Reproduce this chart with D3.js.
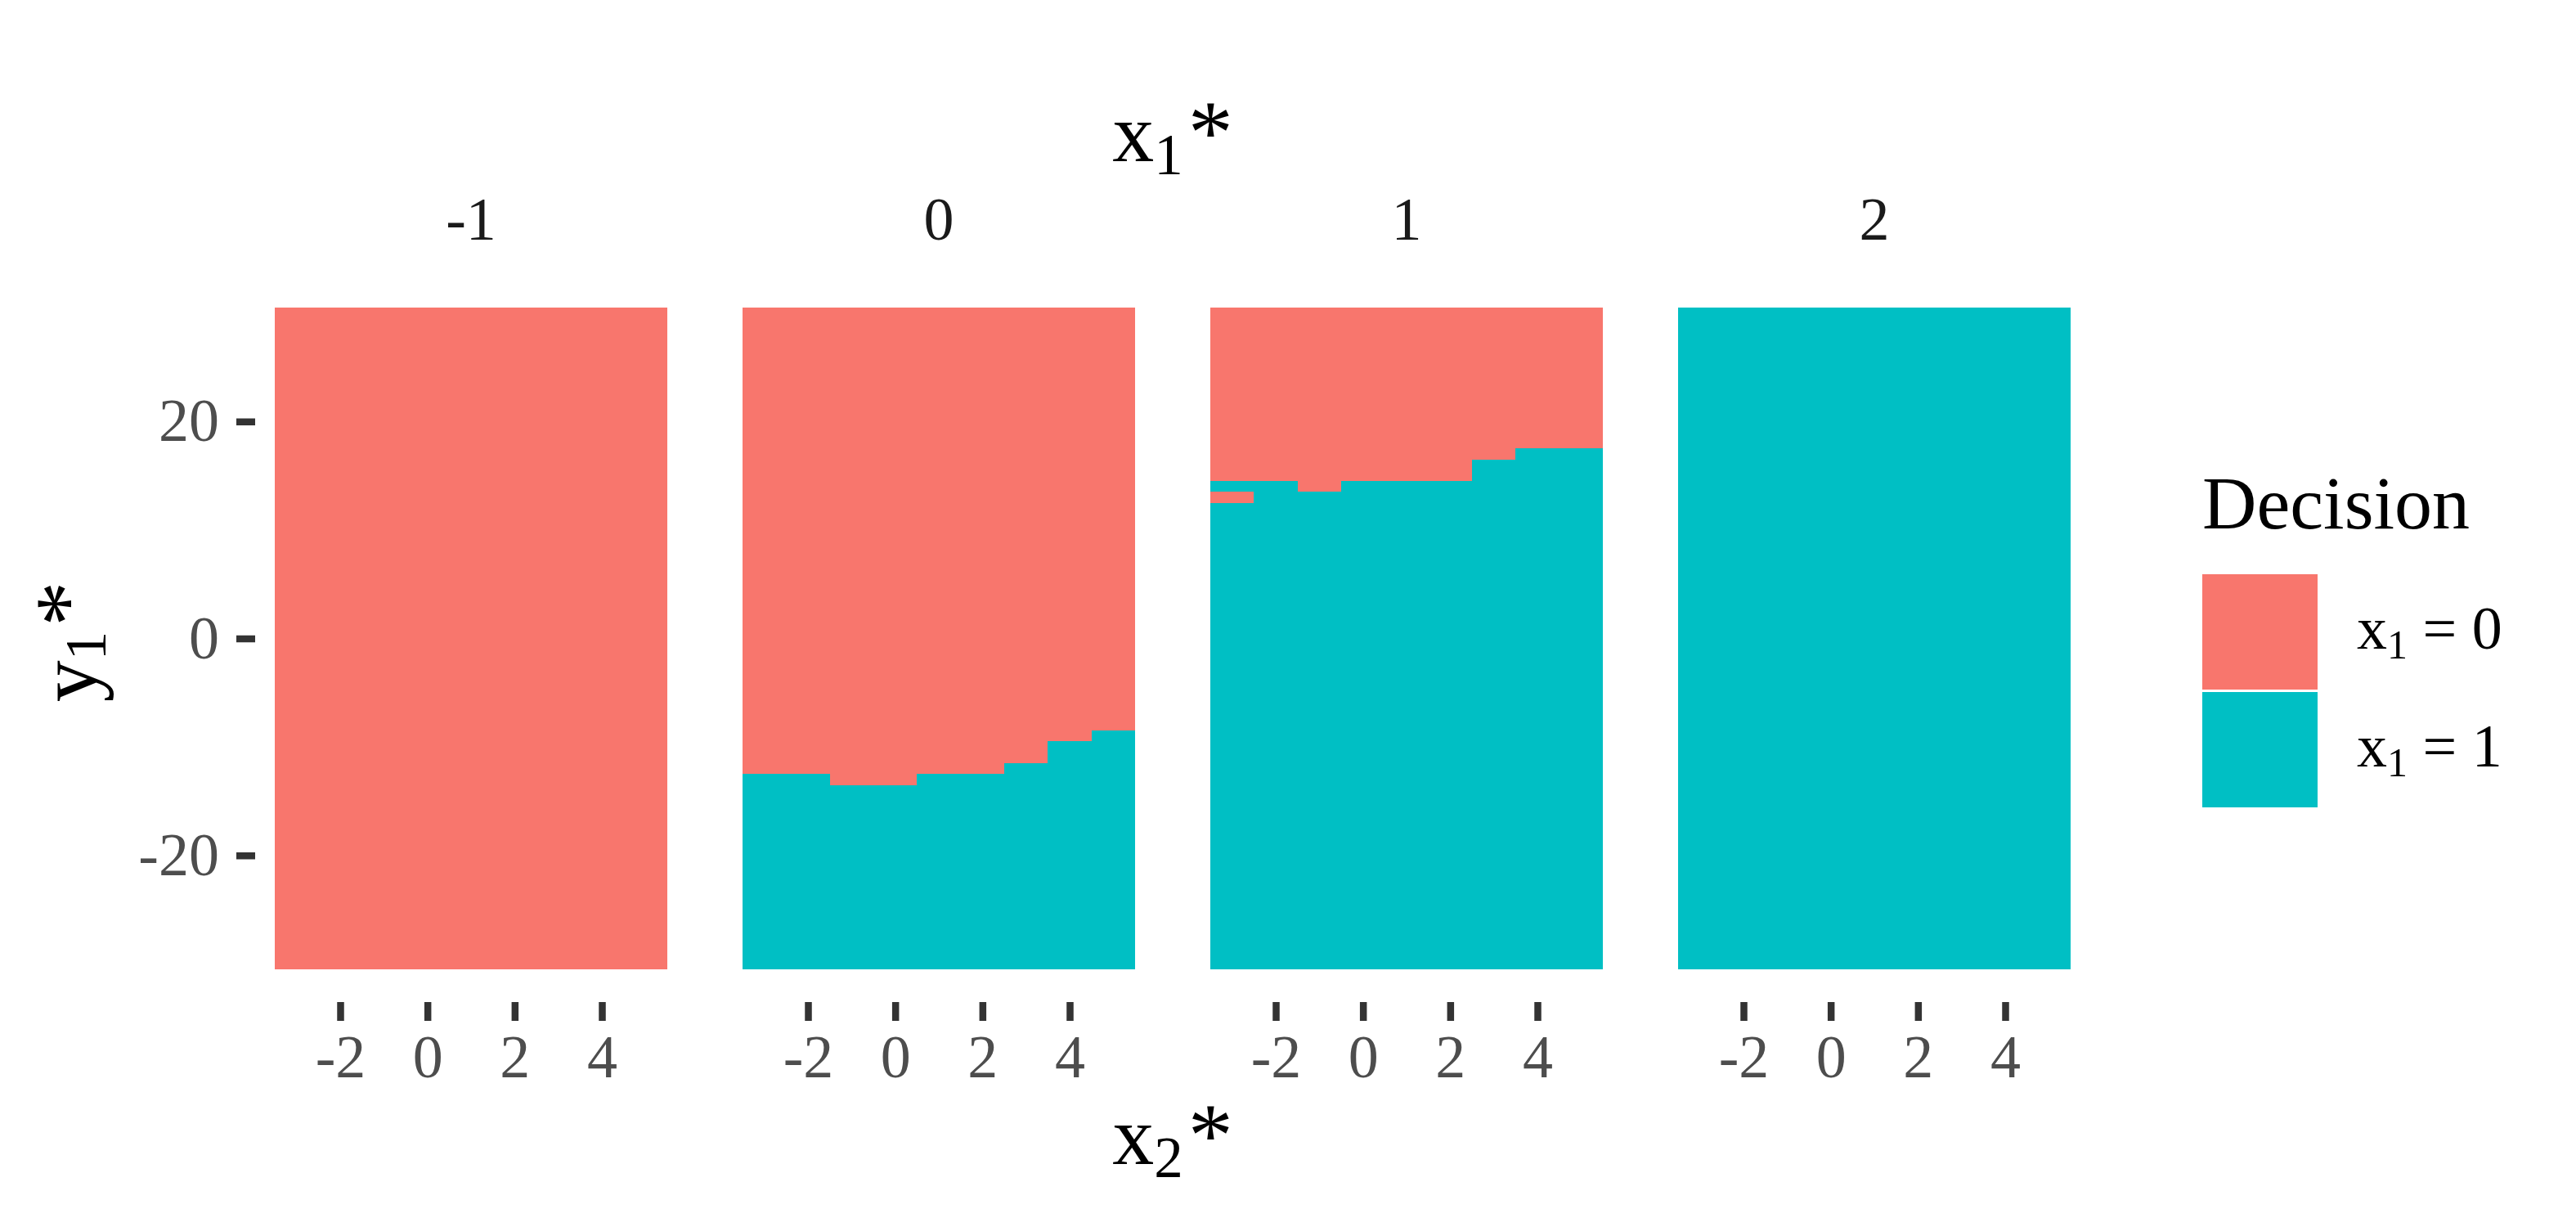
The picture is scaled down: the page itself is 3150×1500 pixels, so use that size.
<!DOCTYPE html>
<html>
<head>
<meta charset="utf-8">
<script src="https://cdn.jsdelivr.net/npm/d3@7"></script>
<style>
    body { margin: 0; background: #fff; }
    svg text { font-family: 'Liberation Serif', 'Times New Roman', serif; }
</style>
</head>
<body>
<svg id="chart" width="3150" height="1500"></svg>
<script>
// facets (x1*) and grid of the decision map
let facets = [-1, 0, 1, 2];
let x2Values = [-3, -2, -1, 0, 1, 2, 3, 4, 5];
let y1Min = -30, y1Max = 30;

// highest y1* where x1 = 1 is chosen, one value per x2* column
let cutM1 = [-31, -31, -31, -31, -31, -31, -31, -31, -31];
let cut0 = [-13, -13, -14, -14, -13, -13, -12, -10, -9];
let cut1 = [14, 14, 13, 14, 14, 14, 16, 17, 17];
let cut2 = [30, 30, 30, 30, 30, 30, 30, 30, 30];

// cells that break the pattern: [x1*, x2*, y1*, decision]
let oddCells = [[1, -3, 13, 0]];

let xTicks = [-2, 0, 2, 4];
let yTicks = [-20, 0, 20];
let decisions = ['0', '1'];
let decisionColors = ['#F8766D', '#00BFC4'];

let cuts = [cutM1, cut0, cut1, cut2];

let panelLeft = 336, panelPitch = 572, panelW = 480;
let panelTop = 376, panelH = 809;

let svg = d3.select('#chart');

let x = d3.scaleLinear().domain([-3.5, 5.5]).range([0, panelW]);
let y = d3.scaleLinear().domain([y1Min - 0.5, y1Max + 0.5]).range([panelH, 0]);
let color = d3.scaleOrdinal().domain(decisions).range(decisionColors);

function decisionAt(facet, fi, col, y1) {
    let odd = oddCells.find(c => c[0] === facet && c[1] === x2Values[col] && c[2] === y1);
    if (odd)
        return String(odd[3]);
    return y1 <= cuts[fi][col] ? '1' : '0';
}

// merge each column into runs of the same decision
function buildRuns(facet, fi) {
    let runs = [];
    x2Values.forEach((x2, col) => {
        let run = null;
        for (let v = y1Min; v <= y1Max; v++) {
            let d = decisionAt(facet, fi, col, v);
            if (run && run.decision === d) {
                run.hi = v;
            } else {
                run = {x2: x2, lo: v, hi: v, decision: d};
                runs.push(run);
            }
        }
    });
    return runs;
}

// writes text with a subscript and optional superscript / tail
function mathText(sel, base, sub, sup, tail, size, subSize, shift) {
    sel.append('tspan').attr('font-size', size).text(base);
    sel.append('tspan').attr('font-size', subSize).attr('dy', shift).text(sub);
    if (sup)
        sel.append('tspan').attr('font-size', size * 1.08).attr('dx', 6).attr('dy', -shift + 2).text(sup);
    if (tail)
        sel.append('tspan').attr('font-size', size).attr('dy', -shift).text(tail);
}

facets.forEach((facet, fi) => {
    let px = panelLeft + fi * panelPitch;
    let g = svg.append('g').attr('transform', 'translate(' + px + ',' + panelTop + ')');

    g.selectAll('rect')
        .data(buildRuns(facet, fi))
        .enter()
        .append('rect')
        .attr('x', d => x(d.x2 - 0.5))
        .attr('width', d => x(d.x2 + 0.5) - x(d.x2 - 0.5))
        .attr('y', d => y(d.hi + 0.5))
        .attr('height', d => y(d.lo - 0.5) - y(d.hi + 0.5))
        .attr('fill', d => color(d.decision))
        .attr('shape-rendering', 'crispEdges');

    // strip label
    svg.append('text')
        .attr('x', px + panelW / 2)
        .attr('y', 293)
        .attr('text-anchor', 'middle')
        .attr('font-size', 74)
        .attr('fill', '#1A1A1A')
        .text(String(facet));

    // x axis
    let ax = svg.append('g')
        .attr('transform', 'translate(' + px + ',1225)')
        .call(d3.axisBottom(x).tickValues(xTicks).tickSize(23).tickPadding(16).tickFormat(d => String(d)));
    ax.select('.domain').remove();
    ax.selectAll('line').attr('stroke', '#333333').attr('stroke-width', 8.5);
    ax.selectAll('text')
        .attr('font-size', 74)
        .attr('fill', '#4D4D4D')
        .attr('font-family', "'Liberation Serif', serif");
});

// y axis on the first panel
let ay = svg.append('g')
    .attr('transform', 'translate(312,' + panelTop + ')')
    .call(d3.axisLeft(y).tickValues(yTicks).tickSize(23).tickPadding(21).tickFormat(d => String(d)));
ay.select('.domain').remove();
ay.selectAll('line').attr('stroke', '#333333').attr('stroke-width', 8.5);
ay.selectAll('text')
    .attr('font-size', 74)
    .attr('fill', '#4D4D4D')
    .attr('font-family', "'Liberation Serif', serif");

let midX = panelLeft + (3 * panelPitch + panelW) / 2;

// top title x1*
svg.append('text')
    .attr('x', midX)
    .attr('y', 197)
    .attr('text-anchor', 'middle')
    .attr('fill', '#000')
    .call(mathText, 'x', '1', '*', null, 102, 71, 16);

// bottom title x2*
svg.append('text')
    .attr('x', midX)
    .attr('y', 1423)
    .attr('text-anchor', 'middle')
    .attr('fill', '#000')
    .call(mathText, 'x', '2', '*', null, 102, 71, 16);

// left title y1*
svg.append('text')
    .attr('transform', 'translate(117,' + (panelTop + panelH / 2 + 4) + ') rotate(-90)')
    .attr('text-anchor', 'middle')
    .attr('fill', '#000')
    .call(mathText, 'y', '1', '*', null, 102, 71, 12);

// legend
let legend = svg.append('g').attr('transform', 'translate(2693,0)');
legend.append('text')
    .attr('x', 0)
    .attr('y', 646)
    .attr('font-size', 92)
    .attr('fill', '#000')
    .text('Decision');

let keyTops = [702, 846];
decisions.forEach((d, i) => {
    legend.append('rect')
        .attr('x', 0)
        .attr('y', keyTops[i])
        .attr('width', 141)
        .attr('height', 141)
        .attr('fill', color(d));
    legend.append('text')
        .attr('x', 189)
        .attr('y', keyTops[i] + 91)
        .attr('fill', '#000')
        .call(mathText, 'x', '1', null, '\u00a0=\u00a0' + d, 74, 50, 12);
});
</script>
</body>
</html>
